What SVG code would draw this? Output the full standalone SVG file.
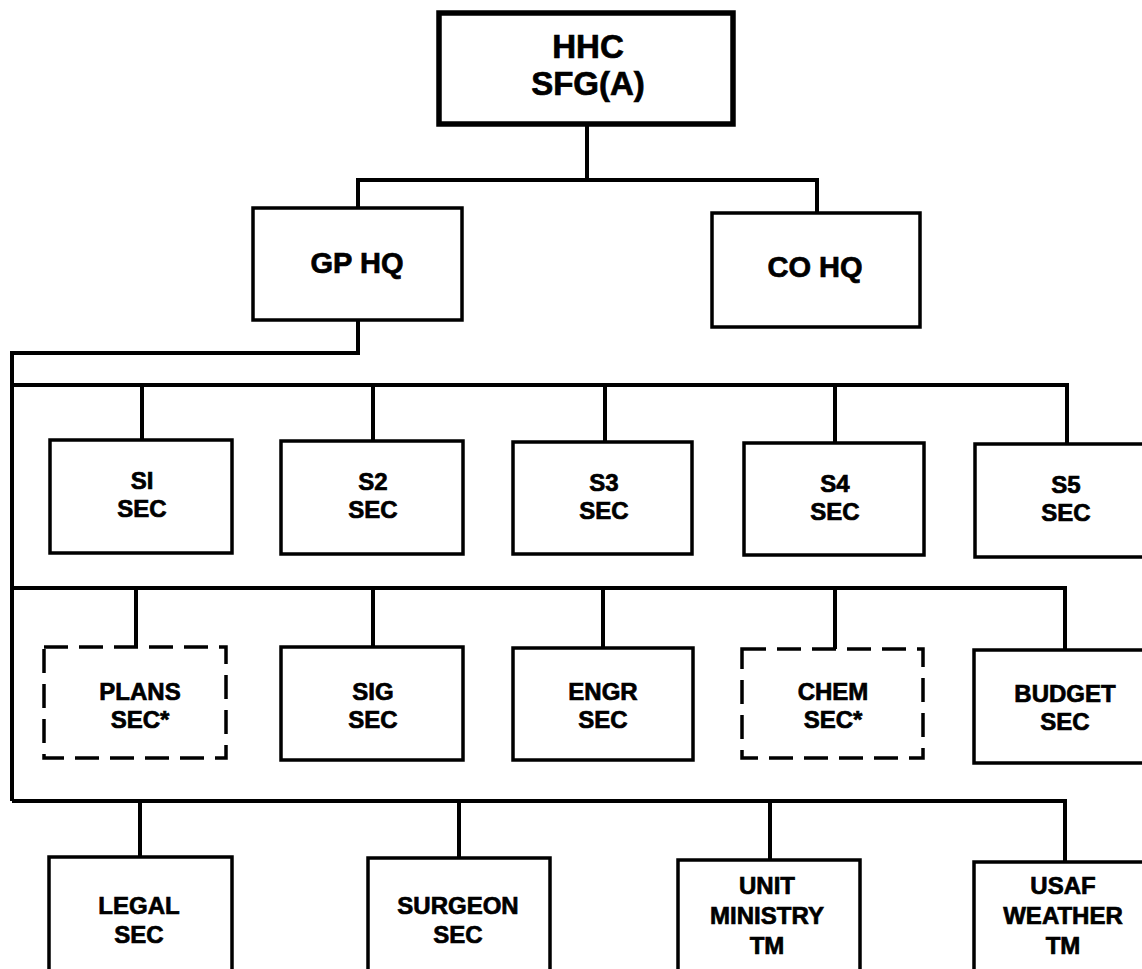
<svg xmlns="http://www.w3.org/2000/svg" width="1142" height="969" viewBox="0 0 1142 969">
<style>
.bx{fill:#fff;stroke:#000;stroke-width:3.5}
.dash{fill:#fff;stroke:#000;stroke-width:3.5;stroke-dasharray:24 11}
.top{fill:#fff;stroke:#000;stroke-width:5.5}
.ln{fill:none;stroke:#000;stroke-width:4;stroke-linejoin:miter}
text{font-family:"Liberation Sans",Arial,sans-serif;font-weight:bold;text-anchor:middle;fill:#000;stroke:#000;stroke-width:0.7}
.t1{font-size:33px}
.t2{font-size:29px}
.t3{font-size:24px}
</style>
<rect width="1142" height="969" fill="#fff"/>
<g id="connectors">
<path class="ln" d="M587 124 V180 M358 208 V180 H817 V213"/>
<path class="ln" d="M358 320 V353 H12 V801"/>
<path class="ln" d="M12 385 H1067 V444 M142 385 V440 M373 385 V441 M605 385 V442 M835 385 V443"/>
<path class="ln" d="M12 588 H1065 V650 M136 588 V647 M373 588 V647 M603 588 V648 M835 588 V649"/>
<path class="ln" d="M12 801 H1065 V862 M140 801 V857 M459 801 V858 M770 801 V860"/>
</g>
<g id="hhc"><rect class="top" x="439" y="13" width="294" height="111"/><text class="t1" x="588" y="58">HHC</text><text class="t1" x="588" y="95">SFG(A)</text></g>
<g id="gphq"><rect class="bx" x="253" y="208" width="209" height="112"/><text class="t2" x="357" y="273">GP HQ</text></g>
<g id="cohq"><rect class="bx" x="712" y="213" width="208" height="114"/><text class="t2" x="815" y="277">CO HQ</text></g>
<g id="s1"><rect class="bx" x="50" y="440" width="182" height="113"/><text class="t3" x="142" y="489">SI</text><text class="t3" x="142" y="517">SEC</text></g>
<g id="s2"><rect class="bx" x="281" y="441" width="182" height="113"/><text class="t3" x="373" y="490">S2</text><text class="t3" x="373" y="518">SEC</text></g>
<g id="s3"><rect class="bx" x="513" y="442" width="179" height="112"/><text class="t3" x="604" y="491">S3</text><text class="t3" x="604" y="519">SEC</text></g>
<g id="s4"><rect class="bx" x="744" y="443" width="180" height="112"/><text class="t3" x="835" y="492">S4</text><text class="t3" x="835" y="520">SEC</text></g>
<g id="s5"><rect class="bx" x="975" y="444" width="172" height="113"/><text class="t3" x="1066" y="493">S5</text><text class="t3" x="1066" y="521">SEC</text></g>
<g id="plans"><rect class="dash" x="44" y="647" width="182" height="111"/><text class="t3" x="140" y="700">PLANS</text><text class="t3" x="140" y="728">SEC*</text></g>
<g id="sig"><rect class="bx" x="281" y="647" width="182" height="113"/><text class="t3" x="373" y="700">SIG</text><text class="t3" x="373" y="728">SEC</text></g>
<g id="engr"><rect class="bx" x="513" y="648" width="180" height="112"/><text class="t3" x="603" y="700">ENGR</text><text class="t3" x="603" y="728">SEC</text></g>
<g id="chem"><rect class="dash" x="742" y="649" width="181" height="109"/><text class="t3" x="833" y="700">CHEM</text><text class="t3" x="833" y="728">SEC*</text></g>
<g id="budget"><rect class="bx" x="974" y="650" width="173" height="113"/><text class="t3" x="1065" y="702">BUDGET</text><text class="t3" x="1065" y="730">SEC</text></g>
<g id="legal"><rect class="bx" x="49" y="857" width="183" height="125"/><text class="t3" x="139" y="914">LEGAL</text><text class="t3" x="139" y="943">SEC</text></g>
<g id="surgeon"><rect class="bx" x="368" y="858" width="182" height="124"/><text class="t3" x="458" y="914">SURGEON</text><text class="t3" x="458" y="943">SEC</text></g>
<g id="unit"><rect class="bx" x="678" y="860" width="182" height="122"/><text class="t3" x="767" y="894">UNIT</text><text class="t3" x="767" y="924">MINISTRY</text><text class="t3" x="767" y="954">TM</text></g>
<g id="usaf"><rect class="bx" x="974" y="862" width="173" height="120"/><text class="t3" x="1063" y="894">USAF</text><text class="t3" x="1063" y="924">WEATHER</text><text class="t3" x="1063" y="954">TM</text></g>
</svg>
